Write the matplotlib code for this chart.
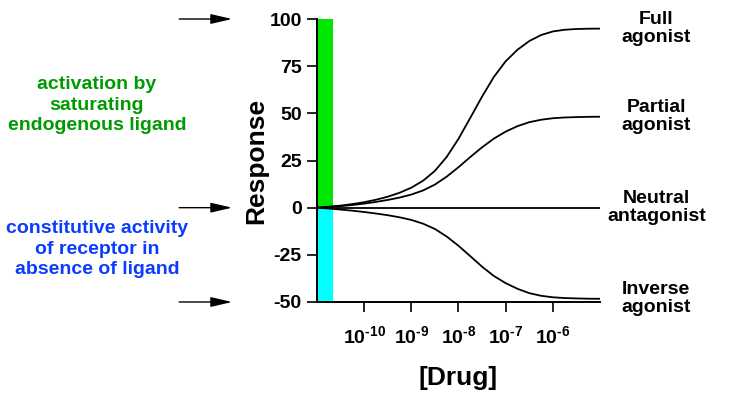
import matplotlib
matplotlib.use("Agg")
import matplotlib.pyplot as plt
from matplotlib.transforms import blended_transform_factory

plt.rcParams['font.family'] = ['Liberation Sans', 'DejaVu Sans']
plt.rcParams['font.weight'] = 'bold'
plt.rcParams['mathtext.fontset'] = 'custom'
plt.rcParams['mathtext.rm'] = 'Liberation Sans:bold'
plt.rcParams['mathtext.bf'] = 'Liberation Sans:bold'
plt.rcParams['mathtext.default'] = 'bf'

# ---- data ----
log_conc = [-11.0, -10.75, -10.5, -10.25, -10.0, -9.75, -9.5, -9.25, -9.0,
            -8.75, -8.5, -8.25, -8.0, -7.75, -7.5, -7.25, -7.0, -6.75,
            -6.5, -6.25, -6.0, -5.75, -5.5, -5.25, -5.0]
full_agonist = [0, 0.5, 1.1, 1.9, 2.9, 4.2, 5.8, 7.9, 10.6,
                14.3, 19.5, 26.9, 36.5, 47.6, 58.9, 69.3, 77.6, 83.7,
                88.3, 91.5, 93.4, 94.3, 94.7, 94.85, 94.9]
partial_agonist = [0, 0.35, 0.8, 1.4, 2.15, 3.05, 4.1, 5.35, 6.95,
                   9.15, 12.25, 16.45, 21.45, 26.85, 32.0, 36.6, 40.3, 43.2,
                   45.3, 46.6, 47.4, 47.8, 48.0, 48.15, 48.2]
neutral_antagonist = [0] * 25
inverse_agonist = [0, -0.45, -1.0, -1.6, -2.3, -3.1, -4.0, -5.1, -6.5,
                   -8.5, -11.3, -15.3, -20.2, -25.7, -31.3, -36.2, -40.0, -43.0,
                   -45.3, -46.7, -47.5, -47.9, -48.1, -48.25, -48.3]
series_names = ["Full\nagonist", "Partial\nagonist", "Neutral\nantagonist", "Inverse\nagonist"]

bar_values = [100, -50]          # endogenous activation / constitutive activity
bar_colors = ['#00e600', '#00ffff']
bar_start_log = -11.0
bar_end_log = -10.67

arrow_levels = [100, 0, -50]
y_ticks = [100, 75, 50, 25, 0, -25, -50]
x_tick_exps = [-10, -9, -8, -7, -6]

left_texts = ["activation by\nsaturating\nendogenous ligand",
              "constitutive activity\nof receptor in\nabsence of ligand"]
left_text_colors = ['#009a00', '#0a3cff']

# ---- figure ----
fig = plt.figure(figsize=(7.40, 4.04), dpi=100)
ax = fig.add_axes([317/740, 1 - 302/404, 283/740, 283/404])

conc = [10 ** v for v in log_conc]
x0 = 10 ** bar_start_log
x1 = 10 ** bar_end_log
for val, col in zip(bar_values, bar_colors):
    ax.bar([x0], [val], width=[x1 - x0], align='edge', bottom=0,
           color=col, edgecolor='none', zorder=1)

all_series = [full_agonist, partial_agonist, neutral_antagonist, inverse_agonist]
for s in all_series:
    ax.plot(conc, s, color='black', lw=1.3, zorder=3, solid_capstyle='butt',
            solid_joinstyle='round')

ax.set_xscale('log')
ax.set_xlim(10 ** -11, 10 ** -5)
ax.set_ylim(-50, 100)
ax.set_xticks([10.0 ** e for e in x_tick_exps])
ax.set_xticklabels([r'$10^{\text{-}%d}$' % (-e) for e in x_tick_exps], fontsize=14)
ax.xaxis.set_minor_locator(matplotlib.ticker.NullLocator())
ax.set_yticks(y_ticks)
ax.set_yticklabels([str(v) for v in y_ticks], fontsize=14, fontweight='bold')
ax.tick_params(axis='x', length=7, width=1.2, pad=10, direction='out')
ax.tick_params(axis='y', length=7, width=1.2, pad=4, direction='out')

for sp in ['top', 'right']:
    ax.spines[sp].set_visible(False)
for sp in ['left', 'bottom']:
    ax.spines[sp].set_linewidth(1.4)

ax.set_ylabel("Response", fontsize=19, fontweight='bold', labelpad=1)
ax.set_xlabel("[Drug]", fontsize=19, fontweight='bold', labelpad=13)

# right labels
for name, s in zip(series_names, all_series):
    ax.annotate(name, xy=(1, s[-1]), xycoords=('axes fraction', 'data'),
                xytext=(40.5, 0), textcoords='offset points',
                ha='center', va='center', fontsize=14, fontweight='bold',
                linespacing=1.1, annotation_clip=False)

# arrows on the left
trans = blended_transform_factory(ax.transAxes, ax.transData)
for lvl in arrow_levels:
    ax.annotate("", xy=(-0.30, lvl), xycoords=trans,
                xytext=(-0.487, lvl), textcoords=trans,
                arrowprops=dict(arrowstyle='-|>,head_length=1.3,head_width=0.3',
                                color='black', lw=1.0, shrinkA=0, shrinkB=0),
                annotation_clip=False)

# left annotations
fig.text(97/740, 1 - 105/404, left_texts[0], color=left_text_colors[0],
         ha='center', va='center', fontsize=14, fontweight='bold', linespacing=1.25)
fig.text(97/740, 1 - 249/404, left_texts[1], color=left_text_colors[1],
         ha='center', va='center', fontsize=14, fontweight='bold', linespacing=1.25)

fig.savefig("out.png", dpi=100)
